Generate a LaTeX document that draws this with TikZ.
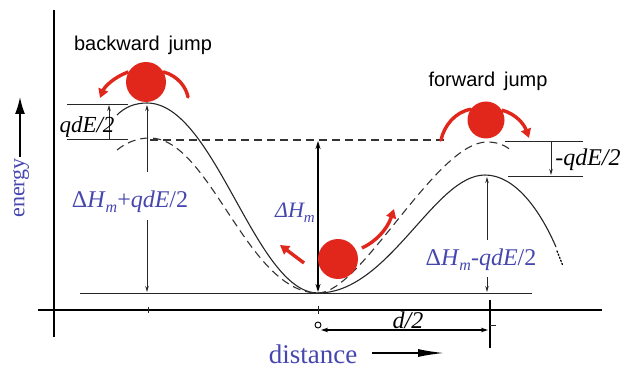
\documentclass[tikz,border=0pt]{standalone}
\usepackage{fontspec}
\setmainfont{Liberation Serif}
\newfontfamily\sansf{Liberation Sans}
\usetikzlibrary{arrows.meta}
\definecolor{lblue}{RGB}{70,70,175}
\definecolor{ballred}{RGB}{225,38,28}
\newcommand\Hsub{\textit{H}\raisebox{-0.22em}{\fontsize{16}{16}\selectfont\textit{m}}}
\begin{document}
\begin{tikzpicture}[x=1pt,y=-1pt,
  curve/.style={line width=1.1pt, black!85},
  dcurve/.style={line width=1.1pt, black!80, dash pattern=on 8pt off 5pt},
  thinline/.style={line width=0.9pt, black!85},
  axis/.style={line width=1.8pt},
  arr/.style={-{Stealth[length=6pt,width=3.5pt]}},
  redarc/.style={ballred, line width=3.4pt},
  redtip/.style={-{Triangle[length=9pt,width=10pt]}},
  ball/.style={circle, fill=ballred, inner sep=0pt},
  mlab/.style={text=lblue, font=\fontsize{24}{26}\selectfont, inner sep=0pt},
  blab/.style={text=black, font=\fontsize{24}{26}\selectfont\itshape, inner sep=0pt},
  jlab/.style={font=\sansf\fontsize{20}{22}\selectfont, inner sep=0pt}
]
\useasboundingbox (0,0) rectangle (625,369);

% axes
\coordinate (yt) at (54,10);
\coordinate (yb) at (54,337);
\coordinate (xl) at (38,310);
\coordinate (xr) at (602,310);
\draw[axis] (yb) -- (yt);
\draw[axis] (xl) -- (xr);
\draw[thinline] (148,307) -- (148,313);
\draw[thinline] (318,306) -- (318,314);
\draw[line width=1.5pt] (490,300) -- (490,348);
\draw[thinline] (490,325) -- (496,325);

% energy and distance labels
\node[text=lblue, font=\fontsize{22}{24}\selectfont, rotate=90, inner sep=0pt] (en) at (21,188) {energy};
\coordinate (ea0) at (20,157);
\coordinate (ea1) at (20,97);
\draw[line width=1.6pt, -{Latex[length=17pt,width=10pt]}] (ea0) -- (ea1);
\node[text=lblue, font=\fontsize{27}{29}\selectfont, inner sep=0pt, anchor=base] (dist) at (313,363) {distance};
\coordinate (da0) at (372,353);
\coordinate (da1) at (444,353);
\draw[line width=1.5pt, -{Latex[length=26pt,width=8pt]}] (da0) -- (da1);

% d/2
\node[draw, circle, line width=0.9pt, minimum size=6pt, inner sep=0pt] (org) at (318,325) {};
\coordinate (dh) at (488,330);
\draw[line width=1.4pt, {Stealth[length=7pt,width=4.5pt]}-{Stealth[length=7pt,width=4.5pt]}] (321,330) -- (dh);
\node[blab] (dlab) at (408,320) {d/2};

% baseline and level lines
\draw[thinline] (80,293) -- (532,293);
\draw[thinline] (67,104) -- (128,104);
\draw[thinline] (67,139) -- (128,139);
\draw[dcurve] (150,140) -- (445,140);
\draw[thinline] (505,141) -- (583,141);
\draw[thinline] (508,176) -- (583,176);

% solid energy curve
\draw[curve] (117,115) .. controls (125,107) and (135,103) .. (147,103)
  .. controls (215,103) and (255,293) .. (318,293)
  .. controls (389,293) and (434,175) .. (485,175)
  .. controls (515,175) and (540,210) .. (556,247);
\draw[line width=1.3pt, dotted, line cap=round] (557,251) -- (563,266);

% dashed energy curve
\draw[dcurve] (117,150) .. controls (127,142) and (138,138) .. (150,138)
  .. controls (210,138) and (247,293) .. (318,293)
  .. controls (361,293) and (436,142) .. (487,142)
  .. controls (497,142) and (505,145) .. (512,151);

% left measurements
\draw[thinline, arr] (109,139) -- (109,105);
\node[blab, font=\fontsize{23}{24}\selectfont\itshape] (q1) at (87,127) {qdE/2};
\draw[thinline, arr] (147,172) -- (147,105);
\draw[thinline, arr] (147,220) -- (147,292);
\node[mlab] (l1) at (130,202) {Δ\Hsub+\textit{qdE}/2};

% centre
\draw[line width=1.8pt, {Stealth[length=8pt,width=5pt]}-{Stealth[length=8pt,width=5pt]}] (318,141) -- (318,292);
\node[text=lblue, font=\fontsize{22}{24}\selectfont\itshape, inner sep=0pt] (l2) at (295,213) {Δ\textit{H}\raisebox{-0.22em}{\fontsize{15}{15}\selectfont\textit{m}}};

% right measurements
\draw[thinline, arr] (551,141) -- (551,175);
\node[blab] (q2) at (588,160) {-qdE/2};
\draw[thinline, arr] (487,240) -- (487,177);
\draw[thinline, arr] (487,277) -- (487,292);
\node[mlab] (l3) at (481,260) {Δ\Hsub-\textit{qdE}/2};

% balls
\node[ball, minimum size=40pt] (b1) at (146,82) {};
\node[ball, minimum size=37pt] (b2) at (486,120) {};
\node[ball, minimum size=40pt] (b3) at (338,259) {};

% red arrows
\draw[redarc, redtip] (b1.150) .. controls (112,78) and (104,88) .. (100,98);
\draw[redarc, line cap=round] (b1.30) .. controls (178,76) and (186,87) .. (188,97);
\draw[redarc, line cap=round] (b2.145) .. controls (455,112) and (444,126) .. (441,140);
\draw[redarc, redtip] (b2.32) .. controls (516,114) and (524,124) .. (529,138);
\coordinate (r1) at (362,248);
\coordinate (r2) at (394,209);
\draw[redarc, redtip] (r1) .. controls (375,242) and (387,230) .. (r2);
\coordinate (r3) at (304,263);
\coordinate (r4) at (280,245);
\draw[redarc, redtip] (r3) -- (r4);

% jump labels
\node[jlab] (bj) at (143,45) {backward\, jump};
\node[jlab] (fj) at (488,81) {forward\, jump};
\end{tikzpicture}
\end{document}
